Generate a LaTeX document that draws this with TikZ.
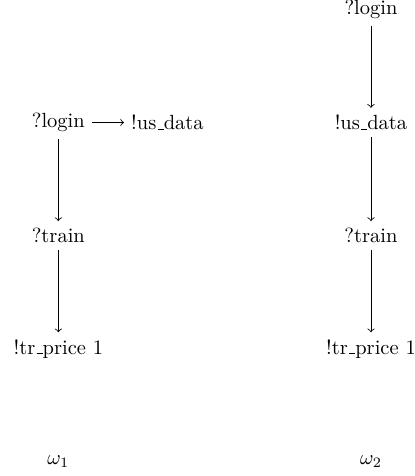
\documentclass[tikz,border=0pt]{standalone}
\newcommand\undsc{\leavevmode\kern.06em\vbox{\hrule width.3em}}
\begin{document}
\begin{tikzpicture}
        \useasboundingbox (-1,-8.0) rectangle (6.1,0.16);
        % left run
        \node (login1) at (0,-1.94) {?login};
        \node (data1) at (1.87,-1.94) {!us\undsc data};
        \node (train1) at (0,-3.88) {?train};
        \node (price1) at (0,-5.82) {!tr\undsc price 1};
        \node (w1) at (0,-7.76) {$\omega_1$};
        \draw [->] (login1) -- (data1);
        \draw [->] (login1) -- (train1);
        \draw [->] (train1) -- (price1);
        % right run
        \node (login2) at (5.36,0) {?login};
        \node (data2) at (5.36,-1.94) {!us\undsc data};
        \node (train2) at (5.36,-3.88) {?train};
        \node (price2) at (5.36,-5.82) {!tr\undsc price 1};
        \node (w2) at (5.36,-7.76) {$\omega_2$};
        \draw [->] (login2) -- (data2);
        \draw [->] (data2) -- (train2);
        \draw [->] (train2) -- (price2);
    \end{tikzpicture}
\end{document}
